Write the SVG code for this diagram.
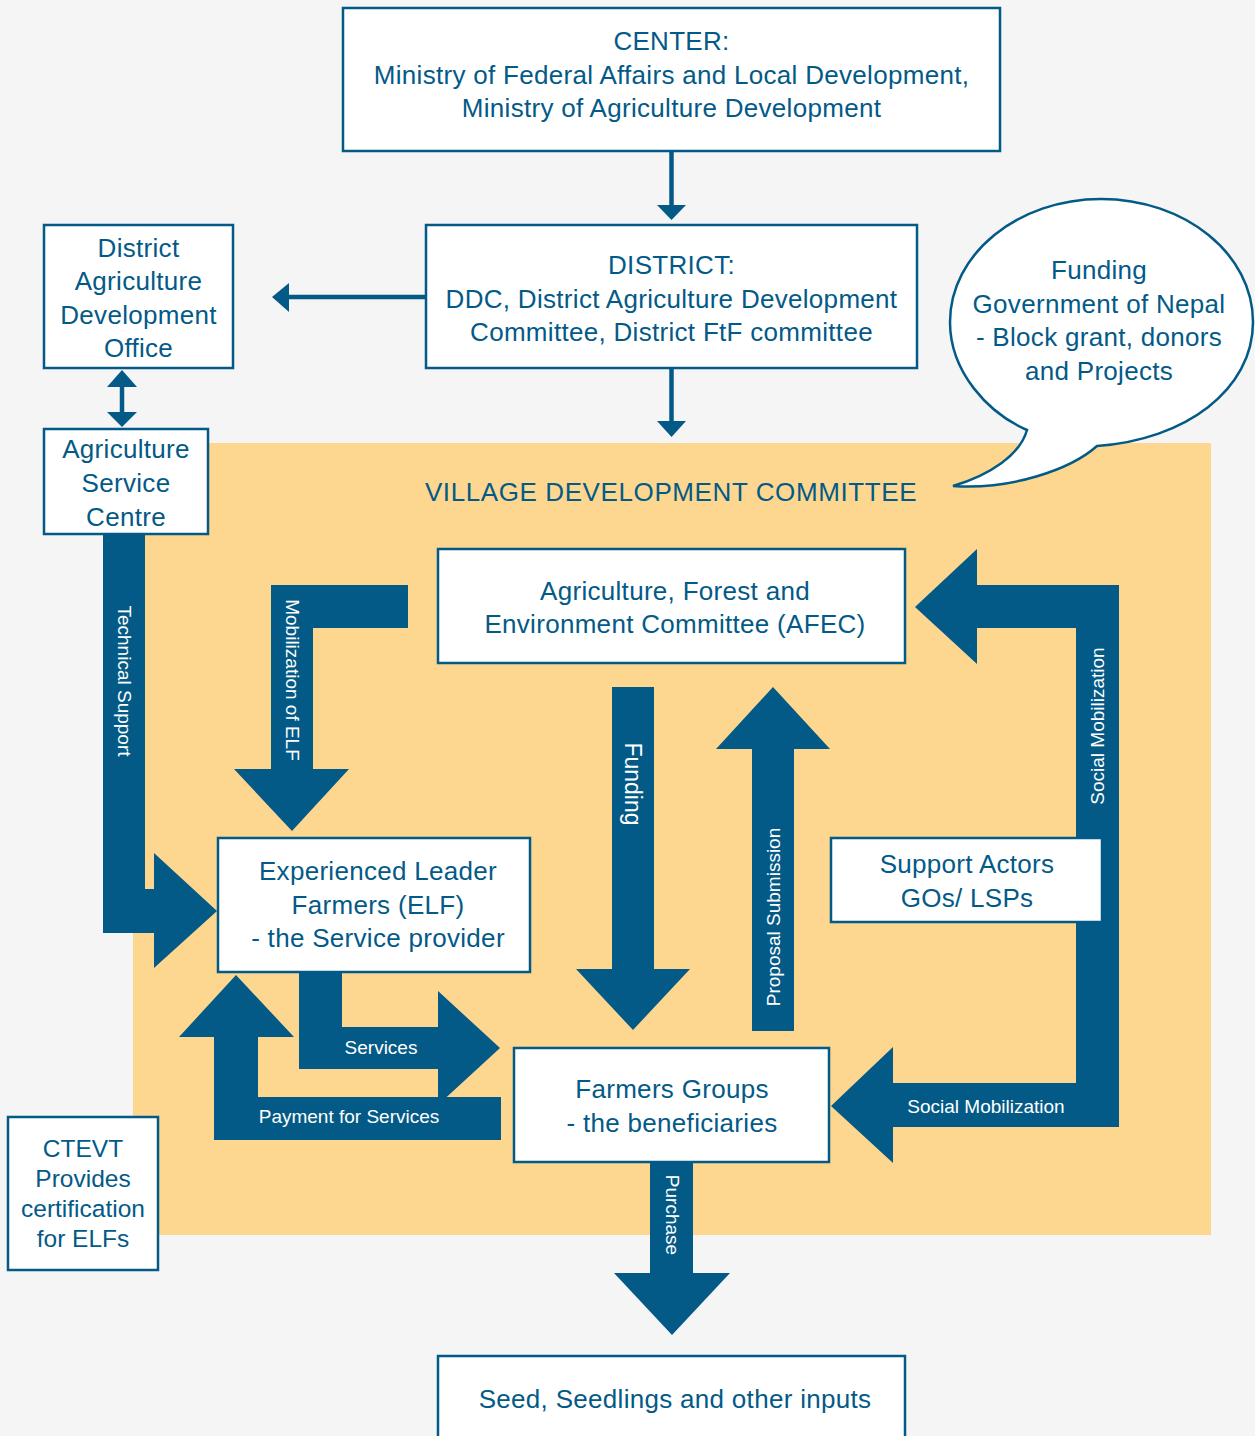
<svg xmlns="http://www.w3.org/2000/svg" width="1255" height="1436" viewBox="0 0 1255 1436">
<style>
.bg{fill:#f5f5f5}
.vdc{fill:#fdd78f}
.box{fill:#ffffff;stroke:#035a87;stroke-width:2.5}
.t{font-family:"Liberation Sans",Arial,sans-serif;font-size:26px;fill:#035a87;text-anchor:middle;letter-spacing:0.3px}
.w{font-family:"Liberation Sans",Arial,sans-serif;font-size:19px;fill:#ffffff;text-anchor:middle}
.arr{fill:#035a87}
.ln{stroke:#035a87;stroke-width:4.5;fill:none}
</style>
<rect class="bg" x="0" y="0" width="1255" height="1436"/>
<rect class="vdc" x="133" y="443" width="1078" height="792"/>
<text class="t" x="671" y="501" style="letter-spacing:0.6px">VILLAGE DEVELOPMENT COMMITTEE</text>

<g id="connectors">
  <line class="ln" x1="671.5" y1="151" x2="671.5" y2="207"/>
  <polygon class="arr" points="657,205 686,205 671.5,220"/>
  <line class="ln" x1="671.5" y1="368" x2="671.5" y2="423"/>
  <polygon class="arr" points="657,421 686,421 671.5,437"/>
  <line class="ln" x1="426" y1="297" x2="286" y2="297"/>
  <polygon class="arr" points="289,283 289,312 272,297"/>
  <line class="ln" x1="122" y1="384" x2="122" y2="414"/>
  <polygon class="arr" points="107,387 137,387 122,370"/>
  <polygon class="arr" points="107,412 137,412 122,427"/>

  <g id="technical-support">
    <polygon class="arr" points="103,534 145,534 145,889 154,889 154,853 217,911 154,968 154,933 103,933"/>
    <text class="w" transform="translate(124,681) rotate(90)" dominant-baseline="central">Technical Support</text>
  </g>
  <g id="mobilization-elf">
    <polygon class="arr" points="408,585 271,585 271,769 234,769 292,831 349,769 313,769 313,628 408,628"/>
    <text class="w" transform="translate(292,680) rotate(90)" dominant-baseline="central">Mobilization of ELF</text>
  </g>
  <g id="funding">
    <polygon class="arr" points="612,687 654,687 654,969 690,969 633,1030 576,969 612,969"/>
    <text class="w" style="font-size:23px" transform="translate(633,784) rotate(90)" dominant-baseline="central">Funding</text>
  </g>
  <g id="proposal">
    <polygon class="arr" points="752,1031 794,1031 794,749 830,749 773,687 716,749 752,749"/>
    <text class="w" transform="translate(773,917) rotate(-90)" dominant-baseline="central">Proposal Submission</text>
  </g>
  <g id="social-mobilization">
    <polygon class="arr" points="915,607 977,549 977,585 1119,585 1119,1127 893,1127 893,1163 831,1106 893,1047 893,1083 1076,1083 1076,628 977,628 977,664"/>
    <text class="w" transform="translate(1097,726) rotate(-90)" dominant-baseline="central">Social Mobilization</text>
    <text class="w" x="986" y="1113">Social Mobilization</text>
  </g>
  <g id="services">
    <polygon class="arr" points="299,972 342,972 342,1027 438,1027 438,991 500,1048 438,1105 438,1069 299,1069"/>
    <text class="w" x="381" y="1054">Services</text>
  </g>
  <g id="payment">
    <polygon class="arr" points="501,1097 501,1140 214,1140 214,1037 179,1037 236,975 294,1037 258,1037 258,1097"/>
    <text class="w" x="349" y="1123">Payment for Services</text>
  </g>
  <g id="purchase">
    <polygon class="arr" points="650,1162 693,1162 693,1273 730,1273 672,1335 614,1273 650,1273"/>
    <text class="w" transform="translate(672,1215) rotate(90)" dominant-baseline="central">Purchase</text>
  </g>
</g>

<g id="center">
  <rect class="box" x="343" y="8" width="657" height="143"/>
  <text class="t" x="671.5" y="50">CENTER:</text>
  <text class="t" x="671.5" y="84">Ministry of Federal Affairs and Local Development,</text>
  <text class="t" x="671.5" y="117">Ministry of Agriculture Development</text>
</g>
<g id="district">
  <rect class="box" x="426" y="225" width="491" height="143"/>
  <text class="t" x="671.5" y="274">DISTRICT:</text>
  <text class="t" x="671.5" y="308">DDC, District Agriculture Development</text>
  <text class="t" x="671.5" y="341">Committee, District FtF committee</text>
</g>
<g id="dado">
  <rect class="box" x="44" y="225" width="189" height="143"/>
  <text class="t" x="138.5" y="257">District</text>
  <text class="t" x="138.5" y="290">Agriculture</text>
  <text class="t" x="138.5" y="324">Development</text>
  <text class="t" x="138.5" y="357">Office</text>
</g>
<g id="asc">
  <rect class="box" x="44" y="429" width="164" height="105"/>
  <text class="t" x="126" y="458">Agriculture</text>
  <text class="t" x="126" y="492">Service</text>
  <text class="t" x="126" y="526">Centre</text>
</g>
<g id="funding-bubble">
  <path d="M1027,430 C988,413 950,372 950,322 C950,254 1018,199 1101,199 C1185,199 1253,254 1253,322 C1253,390 1185,440 1097,446 C1070,470 1010,490 953,486 C990,475 1020,455 1027,430 Z" fill="#ffffff" stroke="#035a87" stroke-width="2.5"/>
  <text class="t" x="1099" y="279">Funding</text>
  <text class="t" x="1099" y="313">Government of Nepal</text>
  <text class="t" x="1099" y="346">- Block grant, donors</text>
  <text class="t" x="1099" y="380">and Projects</text>
</g>
<g id="afec">
  <rect class="box" x="438" y="549" width="467" height="114"/>
  <text class="t" x="675" y="600">Agriculture, Forest and</text>
  <text class="t" x="675" y="633">Environment Committee (AFEC)</text>
</g>
<g id="elf">
  <rect class="box" x="218" y="838" width="312" height="134"/>
  <text class="t" x="378" y="880">Experienced Leader</text>
  <text class="t" x="378" y="914">Farmers (ELF)</text>
  <text class="t" x="378" y="947">- the Service provider</text>
</g>
<g id="support-actors">
  <rect class="box" x="831" y="838" width="271" height="84"/>
  <text class="t" x="967" y="873">Support Actors</text>
  <text class="t" x="967" y="907">GOs/ LSPs</text>
</g>
<g id="farmers-groups">
  <rect class="box" x="514" y="1048" width="315" height="114"/>
  <text class="t" x="672" y="1098">Farmers Groups</text>
  <text class="t" x="672" y="1132">- the beneficiaries</text>
</g>
<g id="ctevt">
  <rect class="box" x="8" y="1117" width="150" height="153"/>
  <text class="t" x="83" y="1157" style="font-size:24.5px;letter-spacing:0">CTEVT</text>
  <text class="t" x="83" y="1187" style="font-size:24.5px;letter-spacing:0">Provides</text>
  <text class="t" x="83" y="1217" style="font-size:24.5px;letter-spacing:0">certification</text>
  <text class="t" x="83" y="1247" style="font-size:24.5px;letter-spacing:0">for ELFs</text>
</g>
<g id="seed">
  <rect class="box" x="438" y="1356" width="467" height="90"/>
  <text class="t" x="675" y="1408">Seed, Seedlings and other inputs</text>
</g>
</svg>
